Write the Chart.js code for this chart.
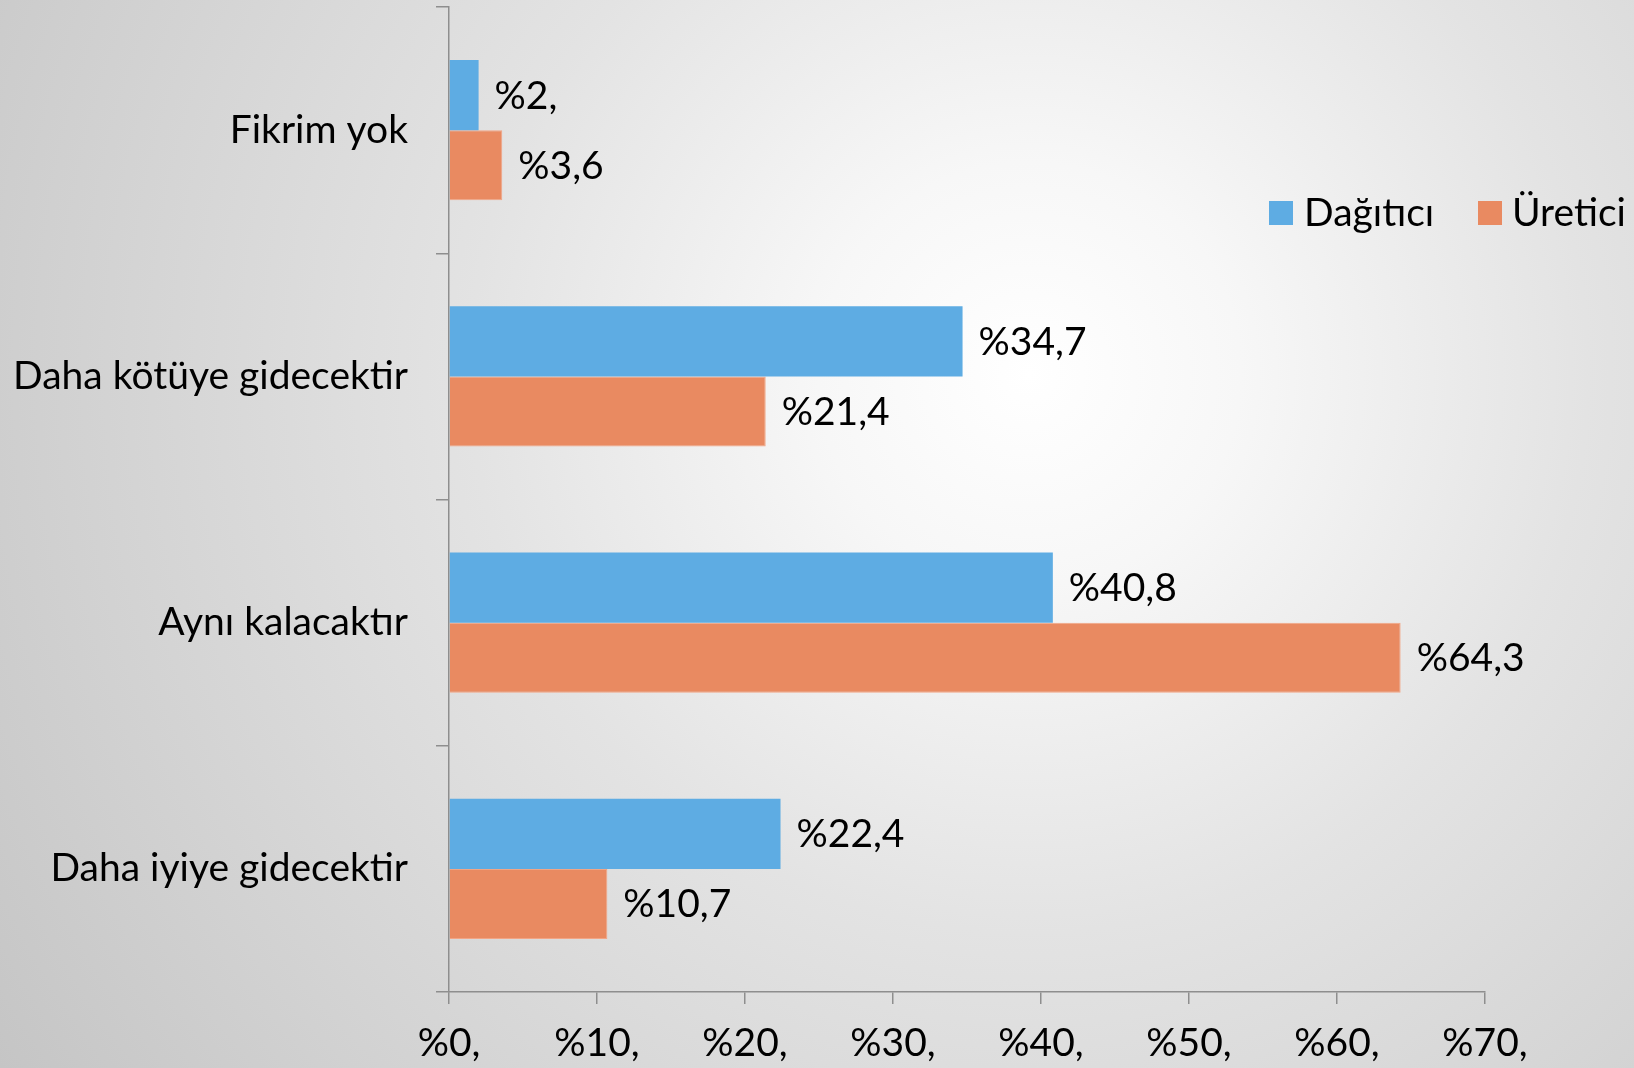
<!DOCTYPE html>
<html>
<head>
<meta charset="utf-8">
<script src="https://cdn.jsdelivr.net/npm/chart.js@4.4.1/dist/chart.umd.min.js"></script>
<style>
  html,body{margin:0;padding:0;}
  body{
    width:1634px;height:1068px;overflow:hidden;
    background:radial-gradient(circle at 63% 35%, #ffffff 0%, #f7f7f7 17%, #e3e3e3 45%, #c5c5c5 100%);
  }
  #chart{display:block;}
</style>
</head>
<body>
<canvas id="chart" width="1634" height="1068"></canvas>
<script>
const categories=['Fikrim yok','Daha kötüye gidecektir','Aynı kalacaktır','Daha iyiye gidecektir'];
const dagitici=[2,34.7,40.8,22.4];
const uretici=[3.6,21.4,64.3,10.7];
const seriesNames=['Dağıtıcı','Üretici'];
const xTicks=[0,10,20,30,40,50,60,70];

const FONT='Lato';
const FSIZE=39;
const AXIS='#8e8e8e';

function pct(v){
  let s=String(v).replace('.',',');
  if(s.indexOf(',')<0) s+=',';
  return '%'+s;
}

const valueLabels={
  id:'valueLabels',
  afterDatasetsDraw(chart){
    const ctx=chart.ctx;
    ctx.save();
    ctx.font=FSIZE+'px '+FONT;
    ctx.fillStyle='#000';
    ctx.textAlign='left';
    ctx.textBaseline='middle';
    chart.data.datasets.forEach((ds,i)=>{
      chart.getDatasetMeta(i).data.forEach((bar,j)=>{
        ctx.fillText(pct(ds.data[j]), bar.x+16, bar.y+1);
      });
    });
    ctx.restore();
  }
};

const sideLegend={
  id:'sideLegend',
  afterDraw(chart){
    const ctx=chart.ctx;
    const pos=[[1269,1304],[1478,1512]];
    ctx.save();
    ctx.font=FSIZE+'px '+FONT;
    ctx.textAlign='left';
    ctx.textBaseline='middle';
    chart.data.datasets.forEach((ds,i)=>{
      ctx.fillStyle=ds.backgroundColor;
      ctx.fillRect(pos[i][0],201,24,24);
      ctx.fillStyle='#000';
      ctx.fillText(ds.label,pos[i][1],213);
    });
    ctx.restore();
  }
};

new Chart(document.getElementById('chart'),{
  type:'bar',
  data:{
    labels:categories,
    datasets:[
      {label:seriesNames[0],data:dagitici,backgroundColor:'#5eace3',borderWidth:0},
      {label:seriesNames[1],data:uretici,backgroundColor:'#e98a61',borderColor:'#f2a585',borderWidth:1,borderSkipped:'start'}
    ]
  },
  options:{
    indexAxis:'y',
    responsive:false,
    animation:false,
    devicePixelRatio:1,
    categoryPercentage:0.569,
    barPercentage:1.0,
    layout:{padding:{top:7,right:149,left:0,bottom:0}},
    plugins:{legend:{display:false},tooltip:{enabled:false}},
    scales:{
      x:{
        min:0,max:70,
        afterBuildTicks(s){ s.ticks=xTicks.map(v=>({value:v})); },
        afterFit(s){ s.height=76; s.paddingLeft=0; s.paddingRight=0; },
        grid:{drawOnChartArea:false,drawTicks:true,tickLength:12,color:AXIS,lineWidth:1.5},
        border:{display:true,color:AXIS,width:1.5},
        ticks:{callback:v=>pct(v),color:'#000',font:{family:FONT,size:FSIZE},padding:16,maxRotation:0,autoSkip:false}
      },
      y:{
        afterFit(s){ s.width=449; s.paddingTop=0; s.paddingBottom=0; },
        grid:{drawOnChartArea:false,drawTicks:true,tickLength:13,color:AXIS,lineWidth:1.5,offset:true},
        border:{display:true,color:AXIS,width:1.5},
        ticks:{color:'#000',font:{family:FONT,size:FSIZE},padding:28}
      }
    }
  },
  plugins:[valueLabels,sideLegend]
});
</script>
</body>
</html>
